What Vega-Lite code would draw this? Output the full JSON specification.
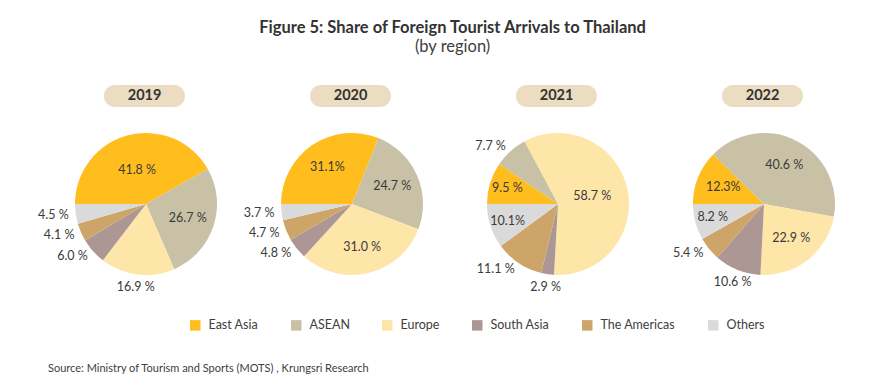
{
  "$schema": "https://vega.github.io/schema/vega-lite/v6.json",
  "padding": {"left": 38, "right": 8, "top": 20, "bottom": 16},
  "background": "white",
  "bounds": "flush",
  "title": {
    "text": "Figure 5: Share of Foreign Tourist Arrivals to Thailand",
    "subtitle": "(by region)",
    "anchor": "middle",
    "font": "Lato",
    "fontSize": 16.5,
    "fontWeight": "bold",
    "color": "#333333",
    "subtitleFont": "Lato",
    "subtitleFontSize": 16.5,
    "subtitleColor": "#404040",
    "subtitlePadding": 2,
    "offset": 26
  },
  "data": {
    "values": [
      {"year": "2019", "region": "East Asia", "ord": 1, "share": 41.8, "label": "41.8 %", "place": "center"},
      {"year": "2019", "region": "ASEAN", "ord": 2, "share": 26.7, "label": "26.7 %", "place": "in"},
      {"year": "2019", "region": "Europe", "ord": 3, "share": 16.9, "label": "16.9 %", "place": "below"},
      {"year": "2019", "region": "South Asia", "ord": 4, "share": 6.0, "label": "6.0 %", "place": "left"},
      {"year": "2019", "region": "The Americas", "ord": 5, "share": 4.1, "label": "4.1 %", "place": "left"},
      {"year": "2019", "region": "Others", "ord": 6, "share": 4.5, "label": "4.5 %", "place": "left"},
      {"year": "2020", "region": "East Asia", "ord": 1, "share": 31.1, "label": "31.1%", "place": "in"},
      {"year": "2020", "region": "ASEAN", "ord": 2, "share": 24.7, "label": "24.7 %", "place": "in"},
      {"year": "2020", "region": "Europe", "ord": 3, "share": 31.0, "label": "31.0 %", "place": "in"},
      {"year": "2020", "region": "South Asia", "ord": 4, "share": 4.8, "label": "4.8 %", "place": "left"},
      {"year": "2020", "region": "The Americas", "ord": 5, "share": 4.7, "label": "4.7 %", "place": "left"},
      {"year": "2020", "region": "Others", "ord": 6, "share": 3.7, "label": "3.7 %", "place": "left"},
      {"year": "2021", "region": "East Asia", "ord": 1, "share": 9.5, "label": "9.5 %", "place": "rim"},
      {"year": "2021", "region": "ASEAN", "ord": 2, "share": 7.7, "label": "7.7 %", "place": "left"},
      {"year": "2021", "region": "Europe", "ord": 3, "share": 58.7, "label": "58.7 %", "place": "center"},
      {"year": "2021", "region": "South Asia", "ord": 4, "share": 2.9, "label": "2.9 %", "place": "below"},
      {"year": "2021", "region": "The Americas", "ord": 5, "share": 11.1, "label": "11.1 %", "place": "left"},
      {"year": "2021", "region": "Others", "ord": 6, "share": 10.1, "label": "10.1%", "place": "rim"},
      {"year": "2022", "region": "East Asia", "ord": 1, "share": 12.3, "label": "12.3%", "place": "in"},
      {"year": "2022", "region": "ASEAN", "ord": 2, "share": 40.6, "label": "40.6 %", "place": "in"},
      {"year": "2022", "region": "Europe", "ord": 3, "share": 22.9, "label": "22.9 %", "place": "in"},
      {"year": "2022", "region": "South Asia", "ord": 4, "share": 10.6, "label": "10.6 %", "place": "below"},
      {"year": "2022", "region": "The Americas", "ord": 5, "share": 5.4, "label": "5.4 %", "place": "left"},
      {"year": "2022", "region": "Others", "ord": 6, "share": 8.2, "label": "8.2 %", "place": "rim"}
    ]
  },
  "facet": {
    "column": {"field": "year", "type": "ordinal", "header": {"labels": false, "title": null}}
  },
  "spacing": 0,
  "spec": {
    "width": 206,
    "height": 294,
    "layer": [
      {
        "encoding": {
          "x": {"datum": 0, "type": "quantitative", "scale": {"domain": [-1.4507, 1.4507], "nice": false, "zero": false}, "axis": null},
          "y": {"datum": 0, "type": "quantitative", "scale": {"domain": [-2.409, 1.732], "nice": false, "zero": false}, "axis": null},
          "theta": {"field": "share", "type": "quantitative", "stack": true, "scale": {"domain": [0, 100], "range": [4.71238898, 10.99557429]}},
          "order": {"field": "ord", "type": "quantitative"},
          "detail": {"field": "region", "type": "nominal"}
        },
        "layer": [
          {
            "mark": {"type": "arc", "outerRadius": 71},
            "encoding": {
              "color": {
                "field": "region",
                "type": "nominal",
                "sort": ["East Asia", "ASEAN", "Europe", "South Asia", "The Americas", "Others"],
                "scale": {
                  "domain": ["East Asia", "ASEAN", "Europe", "South Asia", "The Americas", "Others"],
                  "range": ["#FFBE1E", "#C9C1A5", "#FEE5A8", "#AD9795", "#CDA568", "#DADADA"]
                },
                "legend": {
                  "orient": "none",
                  "legendX": 146,
                  "legendY": 238,
                  "direction": "horizontal",
                  "title": null,
                  "symbolType": "square",
                  "symbolSize": 110,
                  "symbolStrokeWidth": 0,
                  "labelFont": "Lato",
                  "labelFontSize": 12.5,
                  "labelColor": "#404040",
                  "columnPadding": 31,
                  "labelOffset": 7
                }
              }
            }
          },
          {
            "mark": {"type": "text", "radius": 35, "font": "Lato", "fontSize": 12.5, "color": "#3a3a3a", "align": "center", "baseline": "middle"},
            "encoding": {"text": {"condition": {"test": "datum.place === 'center'", "field": "label"}, "value": ""}}
          },
          {
            "mark": {"type": "text", "radius": 44, "font": "Lato", "fontSize": 12.5, "color": "#3a3a3a", "align": "center", "baseline": "middle"},
            "encoding": {"text": {"condition": {"test": "datum.place === 'in'", "field": "label"}, "value": ""}}
          },
          {
            "mark": {"type": "text", "radius": 53, "font": "Lato", "fontSize": 12.5, "color": "#3a3a3a", "align": "center", "baseline": "middle"},
            "encoding": {"text": {"condition": {"test": "datum.place === 'rim'", "field": "label"}, "value": ""}}
          },
          {
            "mark": {"type": "text", "radius": 78, "font": "Lato", "fontSize": 12.5, "color": "#3a3a3a", "align": "right", "baseline": "middle"},
            "encoding": {"text": {"condition": {"test": "datum.place === 'left'", "field": "label"}, "value": ""}}
          },
          {
            "mark": {"type": "text", "radius": 84, "font": "Lato", "fontSize": 12.5, "color": "#3a3a3a", "align": "center", "baseline": "middle"},
            "encoding": {"text": {"condition": {"test": "datum.place === 'below'", "field": "label"}, "value": ""}}
          }
        ]
      },
      {
        "transform": [{"filter": "datum.ord === 1"}],
        "mark": {"type": "rect", "color": "#EBDCC2", "cornerRadius": 11},
        "encoding": {
          "x": {"datum": -0.592, "type": "quantitative"},
          "x2": {"datum": 0.549},
          "y": {"datum": 1.676, "type": "quantitative"},
          "y2": {"datum": 1.366}
        }
      },
      {
        "transform": [{"filter": "datum.ord === 1"}],
        "mark": {"type": "text", "font": "Lato", "fontSize": 14.5, "fontWeight": "bold", "color": "#333333", "align": "center", "baseline": "middle"},
        "encoding": {
          "x": {"datum": -0.02, "type": "quantitative"},
          "y": {"datum": 1.521, "type": "quantitative"},
          "text": {"field": "year", "type": "nominal"}
        }
      },
      {
        "transform": [{"filter": "datum.ord === 1 && datum.year === '2019'"}],
        "mark": {"type": "text", "font": "Lato", "fontSize": 11, "color": "#404040", "align": "left", "baseline": "middle"},
        "encoding": {
          "x": {"datum": -1.38, "type": "quantitative"},
          "y": {"datum": -2.324, "type": "quantitative"},
          "text": {"value": "Source: Ministry of Tourism and Sports (MOTS) , Krungsri Research"}
        }
      }
    ]
  },
  "config": {
    "view": {"stroke": null},
    "font": "Lato"
  }
}
